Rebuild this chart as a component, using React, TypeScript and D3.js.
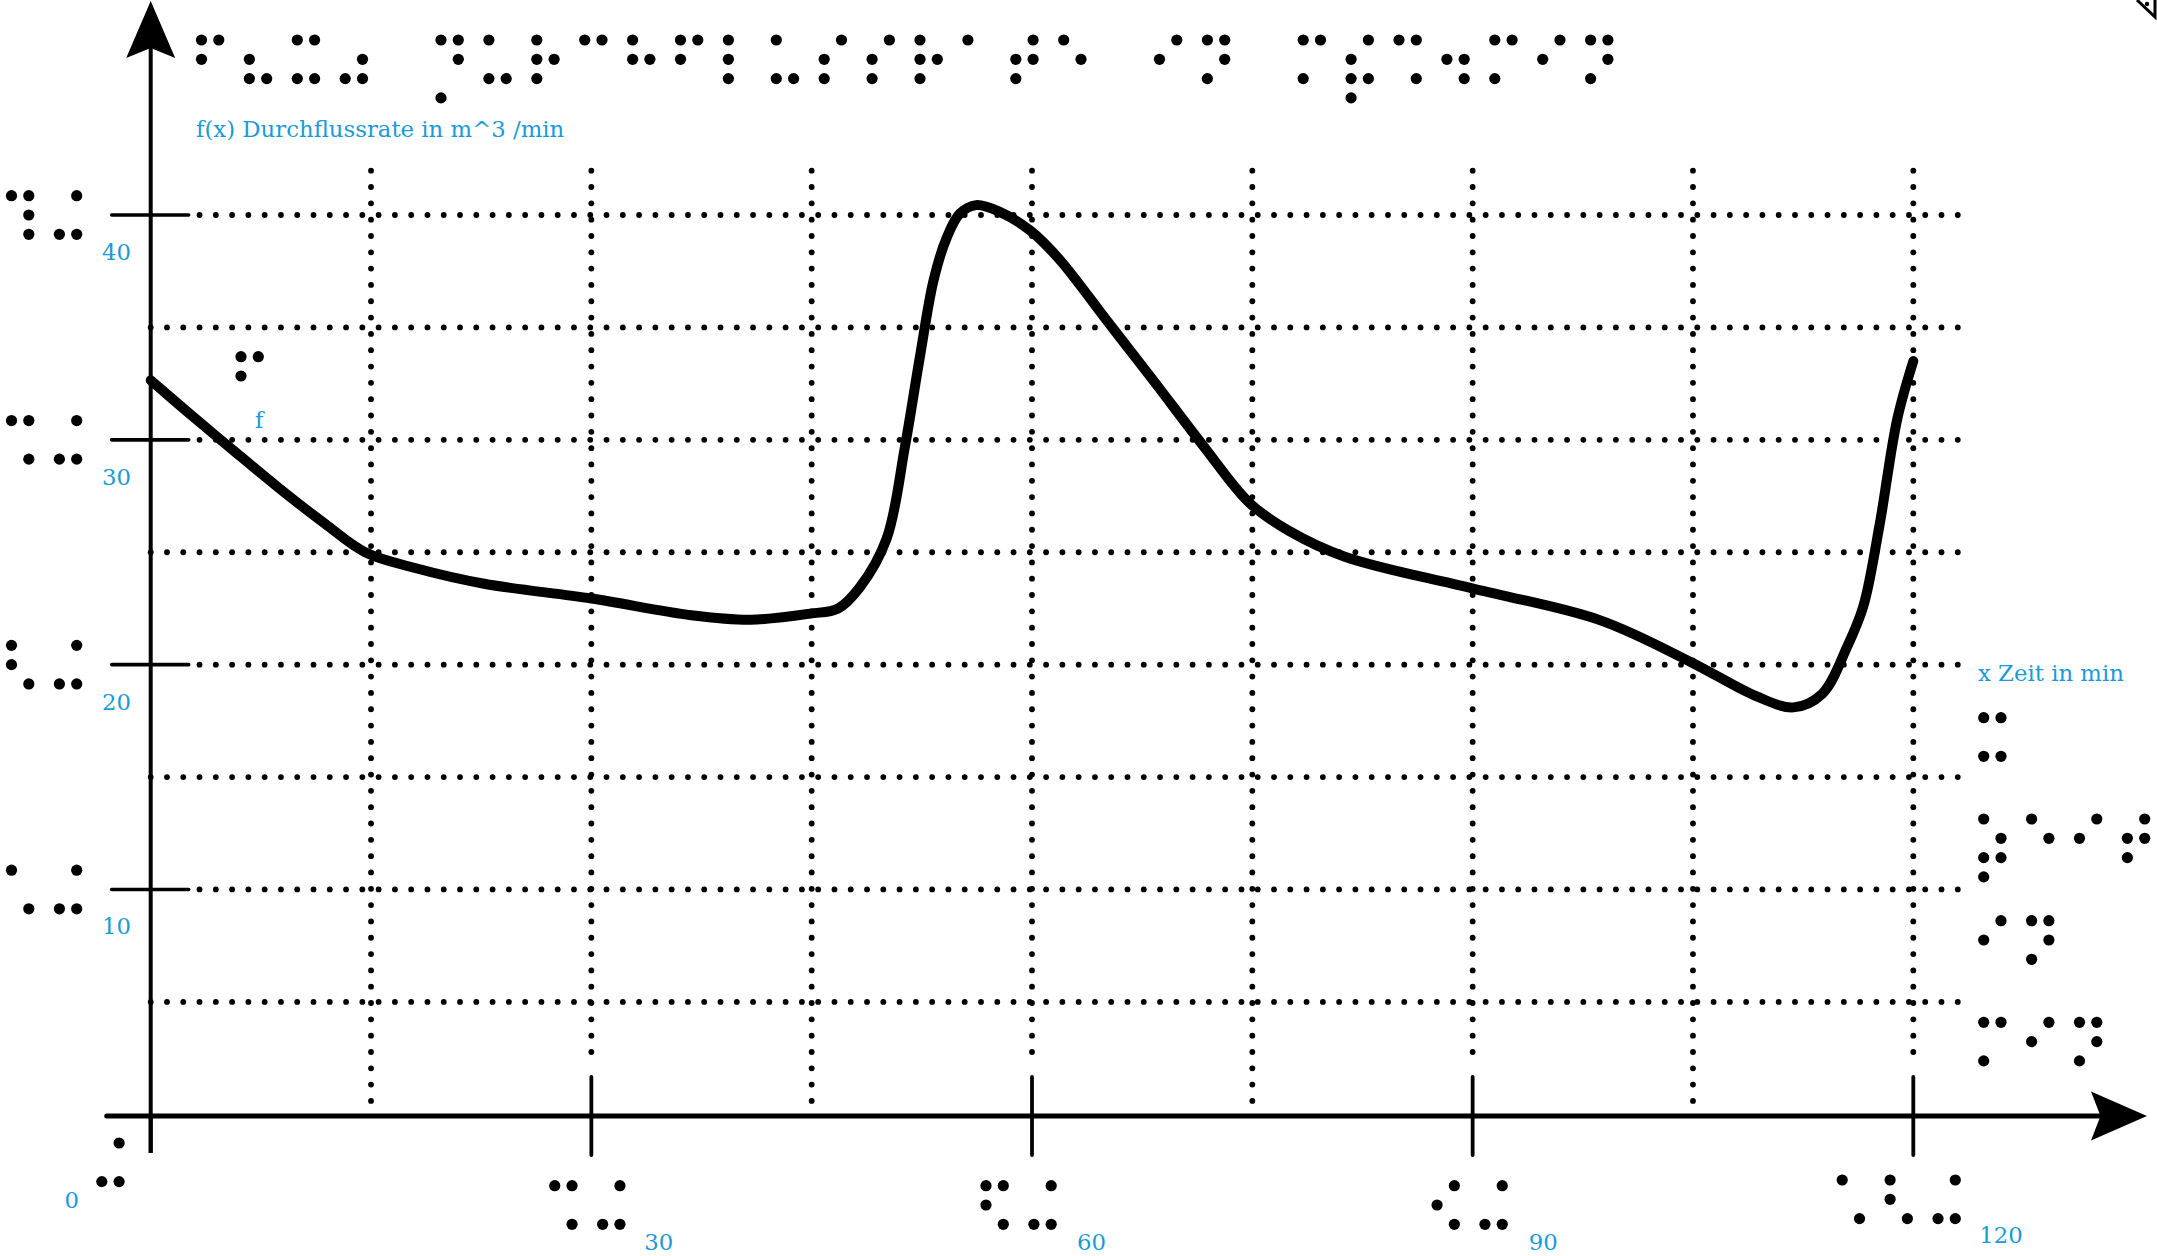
import React from "react";
import * as d3 from "d3";

// ---------- data ----------
const timeMin = [0, 2.4, 5.5, 8.65, 11.8, 14.6, 18.0, 22.7, 30, 36.8, 40.85, 44.9, 46.8, 48.3, 50.1, 51.35, 52.37, 53.3, 54.2, 55.1, 56.2, 57.8, 59.9, 61.9, 65.1, 68.25, 71.7, 74.8, 77.5, 81.3, 89.9, 98.7, 104.9, 109.3, 111.85, 113.8, 115.5, 116.6, 117.7, 118.9, 120];
const flowRate = [32.65, 31.3, 29.6, 27.9, 26.3, 25.0, 24.3, 23.6, 22.94, 22.2, 22.0, 22.27, 22.5, 23.46, 25.6, 29.7, 33.7, 37.1, 39.0, 40.07, 40.44, 40.14, 39.3, 38.0, 35.3, 32.65, 29.7, 27.2, 25.95, 24.8, 23.4, 21.97, 20.1, 18.6, 18.1, 18.7, 20.8, 22.6, 26.2, 30.9, 33.5];

const yTickValues = [10, 20, 30, 40];
const yTickLabels = ["10", "20", "30", "40"];
const yTickBraille = ["\u2821\u282C", "\u2823\u282C", "\u2829\u282C", "\u2839\u282C"];
const yGridValues = [5, 10, 15, 20, 25, 30, 35, 40];

const xTickValues = [30, 60, 90, 120];
const xTickLabels = ["30", "60", "90", "120"];
const xTickBraille = ["\u2829\u282C", "\u282B\u282C", "\u282A\u282C", "\u2821\u2823\u282C"];
const xGridValues = [15, 30, 45, 60, 75, 90, 105, 120];

const originLabel = "0";
const originBraille = "\u282C";

const titleText = "f(x) Durchflussrate in m^3 /min";
const titleBraille = "\u280B\u2826\u282D\u2834\u2800\u2859\u2825\u2817\u2809\u2813\u280B\u2807\u2825\u280E\u280E\u2817\u2801\u281E\u2811\u2800\u280A\u281D\u2800\u280D\u286E\u2829\u2832\u280D\u280A\u281D";
const curveLabel = "f";
const curveBraille = "\u280B";
const xAxisText = "x Zeit in min";
const xAxisBraille = ["\u282D", "\u2875\u2811\u280A\u281E", "\u280A\u281D", "\u280D\u280A\u281D"];

// ---------- layout ----------
const W = 2157;
const H = 1256;
const BLUE = "#1a9bd7";
const FONT = "DejaVu Serif";
const FS = 22.8;

const x = d3.scaleLinear().domain([0, 120]).range([150.7, 1913.3]);
const y = d3.scaleLinear().domain([0, 40]).range([1114.3, 215]);

const CELL = 47.9;
const COL = 17.3;
const ROW = 19.3;
const DOT_R = 5.6;

function Braille({ text, x0, y0, r = DOT_R, pitch = CELL }: { text: string; x0: number; y0: number; r?: number; pitch?: number }) {
  const dots: JSX.Element[] = [];
  Array.from(text).forEach((ch, i) => {
    const code = ch.codePointAt(0)! - 0x2800;
    const cx = x0 + i * pitch;
    const map: [number, number, number][] = [
      [0x01, 0, 0], [0x02, 0, 1], [0x04, 0, 2], [0x08, 1, 0],
      [0x10, 1, 1], [0x20, 1, 2], [0x40, 0, 3], [0x80, 1, 3],
    ];
    map.forEach(([bit, c, rr]) => {
      if (code & bit) {
        dots.push(<circle key={`${i}-${bit}`} cx={cx + c * COL} cy={y0 + rr * ROW} r={r} fill="#000" />);
      }
    });
  });
  return <g>{dots}</g>;
}

const GRID_STEP_H = 16.28;
const GRID_STEP_V = 16.32;
const GRID_R = 2.9;

export default function App() {
  const line = d3
    .line<number>()
    .x((_, i) => x(timeMin[i]))
    .y((d) => y(d))
    .curve(d3.curveCatmullRom.alpha(0.5));
  const pathD = line(flowRate) || "";

  const hGrid: JSX.Element[] = [];
  yGridValues.forEach((v) => {
    const major = v % 10 === 0;
    const yy = y(v);
    for (let k = major ? 3 : 0; x(0) + k * GRID_STEP_H <= 1959; k++) {
      hGrid.push(<circle key={`h${v}-${k}`} cx={x(0) + k * GRID_STEP_H} cy={yy} r={GRID_R} fill="#000" />);
    }
  });
  const vGrid: JSX.Element[] = [];
  xGridValues.forEach((v) => {
    const major = v % 30 === 0;
    const xx = x(v);
    const bottom = major ? 1053 : 1102;
    for (let k = 0; 170.7 + k * GRID_STEP_V <= bottom; k++) {
      vGrid.push(<circle key={`v${v}-${k}`} cx={xx} cy={170.7 + k * GRID_STEP_V} r={GRID_R} fill="#000" />);
    }
  });

  const axisY = 1116;
  const x0 = x(0);
  const xBrailleOffsets = [-36.6, -46, -35.6, -71.1];
  const xBrailleTop = [1185.7, 1185.7, 1185.7, 1180];
  const xLabelOffsets = [53, 45, 56, 66];
  const xLabelBase = [1250, 1250, 1250, 1243];

  return (
    <svg width={W} height={H} style={{ position: "absolute", left: 0, top: 0, background: "#fff" }}>
      <rect width={W} height={H} fill="#fff" />
      {hGrid}
      {vGrid}

      {/* y axis */}
      <line x1={x0} x2={x0} y1={1153} y2={40} stroke="#000" strokeWidth={4} />
      <path d={`M${x0},1 L${x0 + 24.5},58 L${x0},48 L${x0 - 24.5},58 Z`} fill="#000" />
      {yTickValues.map((v, i) => (
        <g key={`yt${v}`}>
          <line x1={x0 - 39} x2={x0 + 38} y1={y(v)} y2={y(v)} stroke="#000" strokeWidth={3.6} strokeLinecap="round" />
          <text x={131} y={y(v) + 45} fill={BLUE} fontFamily={FONT} fontSize={FS} textAnchor="end">{yTickLabels[i]}</text>
          <Braille text={yTickBraille[i]} x0={11.5} y0={y(v) - 19.3} />
        </g>
      ))}

      {/* x axis */}
      <line x1={106.7} x2={2100} y1={axisY} y2={axisY} stroke="#000" strokeWidth={5} strokeLinecap="round" />
      <path d={`M2147,${axisY} L2091,${axisY - 24.5} L2100.5,${axisY} L2091,${axisY + 24.5} Z`} fill="#000" />
      {xTickValues.map((v, i) => (
        <g key={`xt${v}`}>
          <line x1={x(v)} x2={x(v)} y1={1077} y2={1155} stroke="#000" strokeWidth={3.8} strokeLinecap="round" />
          <text x={x(v) + xLabelOffsets[i]} y={xLabelBase[i]} fill={BLUE} fontFamily={FONT} fontSize={FS}>{xTickLabels[i]}</text>
          <Braille text={xTickBraille[i]} x0={x(v) + xBrailleOffsets[i]} y0={xBrailleTop[i]} />
        </g>
      ))}
      <line x1={x0} x2={x0} y1={1116} y2={1153} stroke="#000" strokeWidth={4} />
      <text x={79} y={1208} fill={BLUE} fontFamily={FONT} fontSize={FS} textAnchor="end">{originLabel}</text>
      <Braille text={originBraille} x0={101.8} y0={1143} />

      {/* curve */}
      <path d={pathD} fill="none" stroke="#000" strokeWidth={10} strokeLinecap="round" strokeLinejoin="round" />

      {/* titles */}
      <Braille text={titleBraille} x0={201.5} y0={40} />
      <text x={196} y={137} fill={BLUE} fontFamily={FONT} fontSize={FS}>{titleText}</text>

      <Braille text={curveBraille} x0={241} y0={356.7} />
      <text x={255} y={428} fill={BLUE} fontFamily={FONT} fontSize={FS}>{curveLabel}</text>

      <text x={1978} y={681} fill={BLUE} fontFamily={FONT} fontSize={FS}>{xAxisText}</text>
      {xAxisBraille.map((b, i) => (
        <Braille key={`xb${i}`} text={b} x0={1983.7} y0={[717.7, 819, 920.7, 1022.3][i]} />
      ))}

      {/* corner mark */}
      <path d="M2137,0 L2155,17 L2155,0" fill="none" stroke="#000" strokeWidth={3} />
      <circle cx={2147} cy={4} r={2.2} fill="#000" />
    </svg>
  );
}
